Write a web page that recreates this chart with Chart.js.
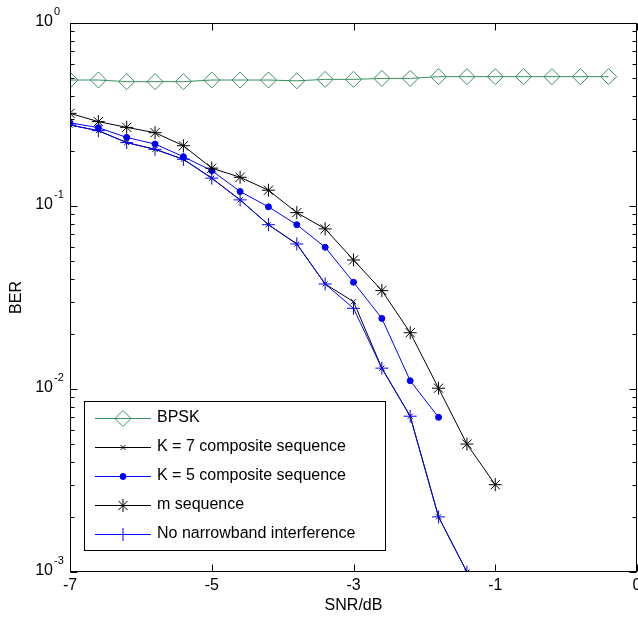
<!DOCTYPE html>
<html>
<head>
<meta charset="utf-8">
<title>BER vs SNR</title>
<script src="https://cdn.jsdelivr.net/npm/chart.js@4/dist/chart.umd.min.js"></script>
<style>
  html, body { margin: 0; padding: 0; background: #fff; }
  #wrap { position: relative; width: 638px; height: 620px; }
</style>
</head>
<body>
<div id="wrap"><canvas id="ber-chart"></canvas></div>
<script>
/* BER curves for the spreading sequences, log scale on y. */
const FONT = '"Liberation Sans", Arial, sans-serif';

// SNR points (dB) for each curve
const SNR_BPSK = [-7, -6.6, -6.2, -5.8, -5.4, -5, -4.6, -4.2, -3.8, -3.4, -3, -2.6, -2.2, -1.8, -1.4, -1, -0.6, -0.2, 0.2, 0.6];
const SNR_M    = [-7, -6.6, -6.2, -5.8, -5.4, -5, -4.6, -4.2, -3.8, -3.4, -3, -2.6, -2.2, -1.8, -1.4, -1];
const SNR_K7   = [-7, -6.6, -6.2, -5.8, -5.4, -5, -4.6, -4.2, -3.8, -3.4, -3, -2.6, -2.2, -1.8, -1.4];
const SNR_K5   = [-7, -6.6, -6.2, -5.8, -5.4, -5, -4.6, -4.2, -3.8, -3.4, -3, -2.6, -2.2, -1.8];
const SNR_NONB = [-7, -6.6, -6.2, -5.8, -5.4, -5, -4.6, -4.2, -3.8, -3.4, -3, -2.6, -2.2, -1.8, -1.4];

// bit error rates
const BER_BPSK = [0.488, 0.488, 0.478, 0.478, 0.478, 0.488, 0.488, 0.488, 0.483, 0.492, 0.492, 0.498, 0.498, 0.509, 0.509, 0.509, 0.509, 0.509, 0.509, 0.509];
const BER_K7   = [0.277, 0.258, 0.222, 0.204, 0.18, 0.142, 0.108, 0.079, 0.062, 0.0375, 0.030, 0.013, 0.0071, 0.002, 0.001];
const BER_K5   = [0.285, 0.268, 0.237, 0.218, 0.186, 0.156, 0.120, 0.099, 0.079, 0.0595, 0.0383, 0.0243, 0.0111, 0.0070];
const BER_M    = [0.321, 0.289, 0.269, 0.2515, 0.2135, 0.161, 0.1435, 0.122, 0.092, 0.075, 0.0507, 0.0345, 0.0203, 0.0101, 0.005, 0.003];
const BER_NONB = [0.277, 0.258, 0.222, 0.204, 0.18, 0.142, 0.108, 0.079, 0.062, 0.0375, 0.0276, 0.013, 0.0071, 0.002, 0.001];

const SERIES_NAMES = ['BPSK', 'K = 7 composite sequence', 'K = 5 composite sequence', 'm sequence', 'No narrowband interference'];

// axis ticks
const X_TICKS = [-7, -5, -3, -1, 1];
const X_TICK_LABELS = ['-7', '-5', '-3', '-1', '0'];
const Y_DECADES = [0, -1, -2, -3];

const toPoints = (xs, ys) => xs.map((x, i) => ({ x, y: ys[i] }));

const GREEN = '#3a8f62';
const BLUE = '#0000ff';
const BLACK = '#000000';

function line(ctx, x1, y1, x2, y2) {
  ctx.beginPath(); ctx.moveTo(x1, y1); ctx.lineTo(x2, y2); ctx.stroke();
}

// box, inward ticks and tick labels drawn by hand (matlab-ish axes)
const axesBox = {
  id: 'axesBox',
  afterDatasetsDraw(chart) {
    const { ctx, chartArea: a, scales: { x, y } } = chart;
    const L = Math.round(a.left) + 0.5, R = Math.round(a.right) - 0.5;
    const T = Math.round(a.top) + 0.5, B = Math.round(a.bottom) - 0.5;
    ctx.save();
    ctx.strokeStyle = '#000';
    ctx.lineWidth = 1;
    ctx.strokeRect(L, T, R - L, B - T);

    X_TICKS.forEach(v => {
      const px = Math.round(x.getPixelForValue(v)) + 0.5;
      line(ctx, px, B, px, B - 7);
      line(ctx, px, T, px, T + 7);
    });

    for (let e = -3; e < 0; e++) {
      for (let m = 1; m <= 9; m++) {
        const py = Math.round(y.getPixelForValue(m * Math.pow(10, e))) + 0.5;
        const len = m === 1 ? 7 : 4;
        line(ctx, L, py, L + len, py);
        line(ctx, R, py, R - len, py);
      }
    }

    ctx.fillStyle = '#000';
    ctx.font = '16px ' + FONT;
    ctx.textAlign = 'center';
    ctx.textBaseline = 'middle';
    X_TICKS.forEach((v, i) => ctx.fillText(X_TICK_LABELS[i], x.getPixelForValue(v), 586));

    Y_DECADES.forEach(e => {
      const py = y.getPixelForValue(Math.pow(10, e));
      ctx.font = '16px ' + FONT;
      ctx.textAlign = 'right';
      ctx.fillText('10', 53, py - 1);
      ctx.font = '11px ' + FONT;
      ctx.textAlign = 'left';
      ctx.fillText(String(e), 54, py - 11);
    });

    ctx.font = '16px ' + FONT;
    ctx.textAlign = 'center';
    ctx.fillText('SNR/dB', (a.left + a.right) / 2, 606);
    ctx.save();
    ctx.translate(17, (a.top + a.bottom) / 2);
    ctx.rotate(-Math.PI / 2);
    ctx.fillText('BER', 0, 0);
    ctx.restore();
    ctx.restore();
  }
};

// legend box with line + marker samples, taken from the dataset styles
const lineLegend = {
  id: 'lineLegend',
  afterDraw(chart) {
    const { ctx } = chart;
    const box = { left: 84.5, top: 401.5, right: 385.5, bottom: 550.5 };
    ctx.save();
    ctx.fillStyle = '#fff';
    ctx.strokeStyle = '#000';
    ctx.lineWidth = 1;
    ctx.fillRect(box.left, box.top, box.right - box.left, box.bottom - box.top);
    ctx.strokeRect(box.left, box.top, box.right - box.left, box.bottom - box.top);

    chart.data.datasets.forEach((ds, i) => {
      const rowY = 418 + i * 29;
      ctx.strokeStyle = ds.borderColor;
      ctx.lineWidth = ds.borderWidth;
      line(ctx, 95, rowY + 0.5, 151, rowY + 0.5);
      ctx.fillStyle = ds.pointBackgroundColor;
      ctx.strokeStyle = ds.pointBorderColor;
      ctx.lineWidth = ds.pointBorderWidth;
      Chart.helpers.drawPoint(ctx, {
        pointStyle: ds.pointStyle, rotation: 0,
        radius: ds.pointRadius, borderWidth: ds.pointBorderWidth
      }, 123, rowY + 0.5);
      ctx.fillStyle = '#000';
      ctx.font = '16px ' + FONT;
      ctx.textAlign = 'left';
      ctx.textBaseline = 'middle';
      ctx.fillText(ds.label, 157, rowY);
    });
    ctx.restore();
  }
};

function series(label, pts, color, style, radius, fill, order) {
  return {
    label, data: pts, order,
    borderColor: color, borderWidth: 1,
    pointStyle: style, pointRadius: radius,
    pointBorderColor: color, pointBorderWidth: 1,
    pointBackgroundColor: fill,
    fill: false, tension: 0
  };
}

new Chart(document.getElementById('ber-chart'), {
  type: 'line',
  data: {
    datasets: [
      series(SERIES_NAMES[0], toPoints(SNR_BPSK, BER_BPSK), GREEN, 'rectRot', 8, 'rgba(0,0,0,0)', 4),
      series(SERIES_NAMES[1], toPoints(SNR_K7, BER_K7), BLACK, 'crossRot', 3.5, BLACK, 3),
      series(SERIES_NAMES[2], toPoints(SNR_K5, BER_K5), BLUE, 'circle', 3, BLUE, 2),
      series(SERIES_NAMES[3], toPoints(SNR_M, BER_M), BLACK, 'star', 6.5, BLACK, 1),
      series(SERIES_NAMES[4], toPoints(SNR_NONB, BER_NONB), BLUE, 'cross', 6.5, BLUE, 0)
    ]
  },
  options: {
    responsive: true,
    maintainAspectRatio: false,
    animation: false,
    layout: { autoPadding: false, padding: { left: 70, top: 23, right: 1, bottom: 48 } },
    scales: {
      x: { type: 'linear', min: -7, max: 1, display: false },
      y: { type: 'logarithmic', min: 0.001, max: 1, display: false }
    },
    plugins: { legend: { display: false }, tooltip: { enabled: false } }
  },
  plugins: [axesBox, lineLegend]
});
</script>
</body>
</html>
